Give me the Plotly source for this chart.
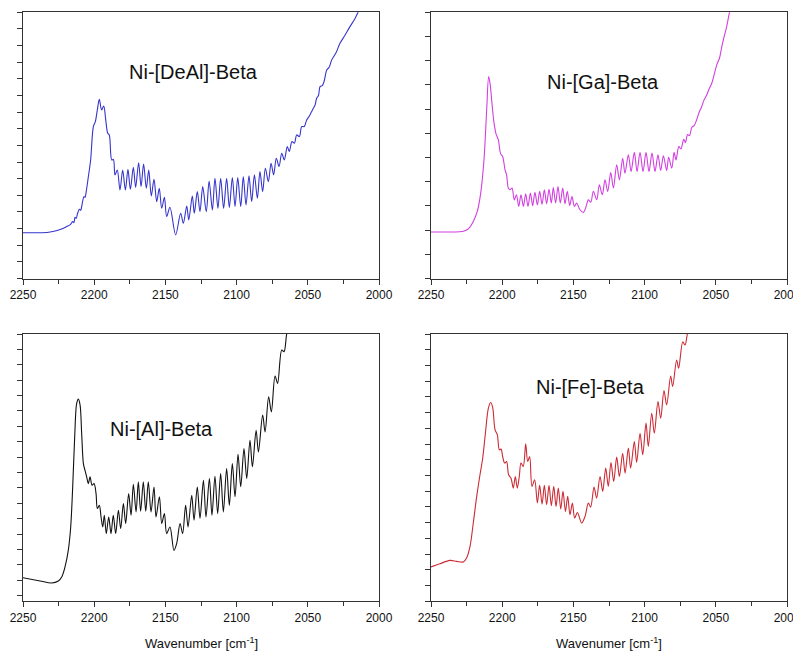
import plotly.graph_objects as go

# ---------------- data (wavenumber cm-1, absorbance a.u.) ----------------
deal_x = [2250, 2240, 2232, 2226, 2222, 2219.3, 2217.0, 2215.1, 2214.2, 2213.5, 2212.6, 2211.8, 2210.4, 2209.5,
          2208.8, 2207.2, 2206.4, 2205.8, 2204.1, 2202.5, 2200.6, 2199.2, 2197.8, 2196.4, 2194.8, 2193.3,
          2191.9, 2190.5, 2189.4, 2187.7, 2186.5,
          2185.4, 2183.8, 2181.9, 2180.0, 2178.1, 2176.3, 2174.6, 2172.5, 2170.9, 2168.8, 2167.1, 2165.3,
          2163.4, 2161.7, 2159.9, 2158.0, 2156.1, 2154.3, 2152.6, 2150.7, 2149.1, 2146.8, 2142.8,
          2139.3, 2137.4, 2135.0, 2133.6, 2131.1, 2129.7, 2127.6, 2125.7, 2123.8, 2121.3, 2119.3, 2117.0,
          2115.2, 2113.1, 2111.2, 2109.1, 2107.0, 2105.1, 2103.0, 2101.1, 2099.2, 2097.1, 2095.3, 2093.4,
          2091.3, 2089.4, 2087.5, 2085.4, 2083.6, 2081.7, 2079.8, 2077.7, 2075.8, 2074.0, 2072.1, 2070.2,
          2068.3, 2066.5, 2064.4, 2063.0, 2061.1, 2059.4, 2057.8, 2055.9, 2054.3, 2052.5, 2050.8, 2049.0,
          2047.5, 2046.1, 2044.8, 2043.8, 2042.5, 2041.4, 2039.8, 2038.6, 2036.7, 2035.0, 2033.2, 2030.0,
          2027.4, 2024.0, 2020.4, 2017.0, 2014.5, 2010.0]
deal_y = [2.75, 2.75, 2.78, 2.88, 3.00, 3.12, 3.22, 3.42, 3.36, 3.68, 3.62, 3.88, 4.16, 4.10,
          4.32, 4.92, 4.88, 5.12, 6.12, 7.12, 9.13, 9.43, 10.13, 10.77, 10.13, 10.37,
          9.53, 8.73, 8.63, 7.12, 7.16,
          6.22, 6.52, 5.32, 6.52, 5.32, 6.56, 5.36, 6.68, 5.48, 6.96, 5.52, 6.88,
          5.42, 6.52, 4.96, 5.96, 4.62, 5.42, 4.22, 4.88, 3.72, 4.28, 2.62,
          3.92, 3.32, 4.36, 3.52, 4.96, 3.92, 5.22, 4.02, 5.52, 4.02, 5.85, 4.12,
          6.03, 4.22, 6.03, 4.22, 6.03, 4.26, 6.07, 4.32, 6.07, 4.32, 6.13, 4.42,
          6.17, 4.62, 6.23, 4.82, 6.43, 5.22, 6.63, 5.82, 6.93, 6.23, 7.23, 6.73,
          7.53, 7.13, 7.93, 7.63, 8.23, 8.13, 8.63, 8.53, 9.13, 9.13, 9.53, 9.75,
          10.00, 10.23, 10.45, 10.83, 11.00, 11.53, 11.60, 11.83, 12.53, 12.70, 13.14, 13.60,
          14.14, 14.60, 15.14, 15.60, 16.04, 16.80]

ga_x = [2250, 2240, 2230, 2227.3, 2223.8, 2220.3, 2217.5, 2215.1, 2212.8, 2210.9, 2209.5, 2208.4,
        2207.4, 2205.7, 2204.3, 2202.7, 2201.1, 2199.7, 2198.0, 2196.9, 2195.7, 2194.5, 2193.1, 2191.5,
        2190.0, 2188.4, 2186.8, 2185.1, 2183.5, 2181.9, 2180.2, 2178.6, 2177.0, 2175.3, 2173.7, 2172.0,
        2170.4, 2168.8, 2167.1, 2165.5, 2164.1, 2162.5, 2160.8, 2159.2, 2157.5, 2155.9, 2154.3, 2152.6,
        2151.0, 2149.3, 2147.7, 2145.5, 2143.0, 2141.2, 2139.5, 2137.8, 2136.0, 2133.6, 2131.8, 2129.7,
        2127.8, 2125.9, 2123.8, 2121.9, 2119.6, 2117.7, 2115.4, 2113.8, 2111.4, 2109.5, 2107.2, 2105.3,
        2103.2, 2101.1, 2099.0, 2096.9, 2094.8, 2092.7, 2090.6, 2088.7, 2086.8, 2084.5, 2083.1, 2080.9,
        2079.3, 2077.9, 2076.0, 2074.5, 2072.5, 2071.3, 2069.8, 2068.5, 2066.8, 2065.2, 2063.5, 2061.5,
        2059.9, 2058.3, 2056.4, 2054.6, 2052.9, 2051.2, 2049.4, 2047.5, 2045.8, 2044.2, 2042.4, 2040.5,
        2038.0]
ga_y = [1.92, 1.92, 1.93, 1.95, 2.05, 2.36, 2.77, 3.53, 4.90, 6.96, 8.34, 8.00,
        7.37, 6.41, 5.97, 5.73, 5.15, 5.04, 4.49, 4.28, 3.74, 3.67, 3.74, 3.25,
        3.46, 2.98, 3.46, 2.98, 3.50, 2.98, 3.53, 3.01, 3.56, 3.04, 3.60, 3.07,
        3.67, 3.09, 3.69, 3.12, 3.76, 3.12, 3.80, 3.12, 3.74, 3.09, 3.60, 3.02,
        3.39, 2.98, 3.12, 2.85, 2.73, 2.95, 3.25, 3.15, 3.60, 3.26, 3.87, 3.46,
        4.08, 3.60, 4.38, 3.74, 4.70, 4.08, 4.97, 4.35, 5.11, 4.42, 5.21, 4.42,
        5.22, 4.42, 5.21, 4.42, 5.18, 4.42, 5.11, 4.46, 5.07, 4.46, 5.01, 4.56,
        5.21, 4.90, 5.45, 5.35, 5.75, 5.62, 5.95, 5.90, 6.25, 6.32, 6.55, 6.90,
        7.10, 7.37, 7.58, 7.85, 8.06, 8.41, 8.82, 9.09, 9.57, 9.98, 10.40, 10.97,
        11.60]

al_x = [2250.2, 2238.0, 2229.9, 2225.2, 2222.8, 2220.5, 2218.2, 2216.5, 2215.1, 2213.7, 2212.3, 2211.1,
        2209.9, 2208.8, 2207.6, 2206.5, 2205.3, 2204.1, 2202.9, 2201.5, 2200.1, 2198.7, 2197.8, 2196.4,
        2195.2, 2194.0, 2192.9, 2191.5, 2189.8, 2188.2, 2186.6, 2184.9, 2183.0, 2181.4, 2179.5, 2177.9,
        2175.8, 2174.1, 2172.5, 2170.6, 2169.0, 2167.4, 2165.5, 2163.8, 2162.0, 2160.1, 2158.0, 2156.6,
        2154.2, 2152.6, 2150.7, 2149.1, 2146.8, 2144.0, 2142.1, 2139.7, 2137.9, 2135.8, 2134.1, 2131.5,
        2129.9, 2127.6, 2125.7, 2123.3, 2121.5, 2119.1, 2117.3, 2115.2, 2113.3, 2111.2, 2109.3, 2107.0,
        2105.1, 2103.0, 2101.1, 2099.0, 2097.1, 2094.8, 2092.9, 2090.6, 2088.9, 2086.3, 2084.7, 2081.7,
        2080.0, 2077.5, 2075.6, 2073.0, 2071.2, 2068.3, 2066.7, 2064.8, 2062.0]
al_y = [1.16, 0.95, 0.82, 0.95, 1.21, 1.86, 2.94, 4.46, 7.07, 10.32, 12.49, 12.77,
        12.38, 10.54, 8.58, 8.15, 7.72, 7.28, 7.72, 7.17, 7.28, 6.63, 5.66, 5.87,
        5.11, 4.46, 5.22, 4.03, 5.11, 4.03, 5.22, 4.03, 5.55, 4.35, 5.98, 4.68,
        6.63, 5.22, 7.24, 5.44, 7.39, 5.48, 7.39, 5.48, 7.39, 5.44, 7.06, 5.11,
        6.42, 4.68, 5.33, 4.03, 4.46, 2.94, 3.38, 4.68, 4.03, 5.87, 4.46, 6.52,
        4.90, 7.06, 5.01, 7.50, 5.11, 7.61, 5.22, 7.76, 5.33, 7.93, 5.44, 8.26,
        5.87, 8.58, 6.42, 9.19, 7.07, 9.56, 7.61, 10.10, 8.37, 10.75, 9.34, 11.73,
        10.64, 12.92, 11.94, 14.27, 13.79, 15.96, 15.85, 17.00, 18.00]

fe_x = [2250.2, 2243.7, 2236.7, 2232.0, 2227.3, 2225.0, 2222.6, 2220.3, 2217.9, 2215.6, 2213.7, 2211.8,
        2209.7, 2208.1, 2206.7, 2205.0, 2203.4, 2202.0, 2200.8, 2199.7, 2198.3, 2196.9, 2195.5, 2193.8,
        2192.2, 2190.8, 2189.4, 2188.0, 2186.8, 2185.2, 2183.5, 2182.1, 2180.7, 2179.1, 2177.2, 2175.3,
        2173.7, 2172.0, 2170.4, 2168.8, 2167.1, 2165.5, 2163.8, 2162.2, 2160.6, 2158.9, 2157.3, 2155.6,
        2154.0, 2152.4, 2150.7, 2149.1, 2147.2, 2144.2, 2141.8, 2139.5, 2137.9, 2135.5, 2133.7, 2131.3,
        2129.4, 2127.3, 2125.5, 2123.6, 2121.7, 2119.6, 2117.7, 2115.4, 2113.7, 2111.4, 2109.8, 2107.2,
        2105.6, 2103.2, 2101.3, 2099.0, 2097.4, 2095.0, 2093.2, 2090.6, 2088.7, 2086.4, 2084.5, 2081.7,
        2080.3, 2077.5, 2076.1, 2073.2, 2071.6, 2069.9, 2067.0]
fe_y = [2.18, 2.39, 2.60, 2.54, 2.50, 2.75, 3.49, 4.98, 6.67, 8.05, 9.10, 10.69,
        12.28, 12.64, 12.34, 10.90, 10.59, 9.63, 9.68, 9.21, 8.79, 8.89, 8.05, 7.83,
        7.20, 7.94, 7.20, 7.94, 8.79, 8.58, 10.01, 8.89, 9.21, 7.31, 7.73, 6.25,
        7.37, 6.18, 7.37, 6.14, 7.37, 6.08, 7.31, 6.03, 7.20, 5.87, 6.99, 5.72,
        6.67, 5.51, 6.25, 5.30, 5.65, 4.98, 5.40, 6.25, 5.99, 7.26, 6.56, 7.94,
        6.99, 8.47, 7.31, 8.83, 7.62, 9.17, 7.94, 9.42, 8.15, 9.74, 8.47, 10.16,
        8.83, 10.69, 9.32, 11.33, 9.85, 11.96, 10.69, 12.70, 11.64, 13.40, 12.49, 14.33,
        13.66, 15.35, 14.82, 16.51, 16.30, 17.04, 18.00]

labels = ["Ni-[DeAl]-Beta", "Ni-[Ga]-Beta", "Ni-[Al]-Beta", "Ni-[Fe]-Beta"]
colors = ["#3434cc", "#d23ee0", "#111111", "#cc2a34"]
xtitles = ["Wavenumber [cm<sup>-1</sup>]", "Wavenumer [cm<sup>-1</sup>]"]

# ---------------- figure ----------------
OFF = 8                      # page body margin
W, H = 801 - OFF, 654 - OFF  # figure size


def fx(px):
    return (px - OFF) / W


def fy(py):
    return 1 - (py - OFF) / H


fig = go.Figure()
series = [(deal_x, deal_y), (ga_x, ga_y), (al_x, al_y), (fe_x, fe_y)]
for i, (xs, ys) in enumerate(series):
    k = "" if i == 0 else str(i + 1)
    fig.add_trace(go.Scatter(x=xs, y=ys, mode="lines", xaxis="x" + k, yaxis="y" + k,
                             line=dict(color=colors[i], width=1.1, shape="spline", smoothing=0.9),
                             showlegend=False, hoverinfo="skip"))

xdom = [[fx(23), fx(379)], [fx(431), fx(787)]]
ydom = [[fy(278.5), fy(12.3)], [fy(601.3), fy(334)]]
yranges = [[0, 16], [0, 11], [-0.37, 17.0], [0, 17]]

axis_common = dict(showline=True, mirror=True, linecolor="#333333", linewidth=1, automargin=False,
                   showgrid=False, zeroline=False, ticks="outside", tickcolor="#333333")
lay = {}
for i in range(4):
    k = "" if i == 0 else str(i + 1)
    col, row = i % 2, i // 2
    lay["xaxis" + k] = dict(axis_common, domain=xdom[col], range=[2250, 2000], anchor="y" + k,
                            tick0=2000, dtick=50, ticklen=5, ticklabeloverflow="allow",
                            minor=dict(dtick=25, ticks="outside", ticklen=4, tickcolor="#333333"),
                            tickfont=dict(family="Liberation Sans, Arial", size=12, color="#111111"))
    lay["yaxis" + k] = dict(axis_common, domain=ydom[row], range=yranges[i], anchor="x" + k,
                            tick0=0, dtick=1, ticklen=5, showticklabels=False)

label_pos = [(193, 71.7), (603, 82.3), (161, 429.3), (590.3, 387)]
ann = []
for i, (px, py) in enumerate(label_pos):
    ann.append(dict(x=fx(px), y=fy(py), xref="paper", yref="paper", text=labels[i],
                    showarrow=False, xanchor="center", yanchor="middle",
                    font=dict(family="Liberation Sans, Arial", size=20, color="#111111")))
for j, px in enumerate([201.7, 608.5]):
    ann.append(dict(x=fx(px), y=fy(643), xref="paper", yref="paper", text=xtitles[j],
                    showarrow=False, xanchor="center", yanchor="middle",
                    font=dict(family="Liberation Sans, Arial", size=13, color="#111111")))

fig.update_layout(template="none", width=W, height=H, margin=dict(l=0, r=0, t=0, b=0, autoexpand=False),
                  autosize=False, paper_bgcolor="white", plot_bgcolor="white", annotations=ann, **lay)

fig.write_html("out.html")
